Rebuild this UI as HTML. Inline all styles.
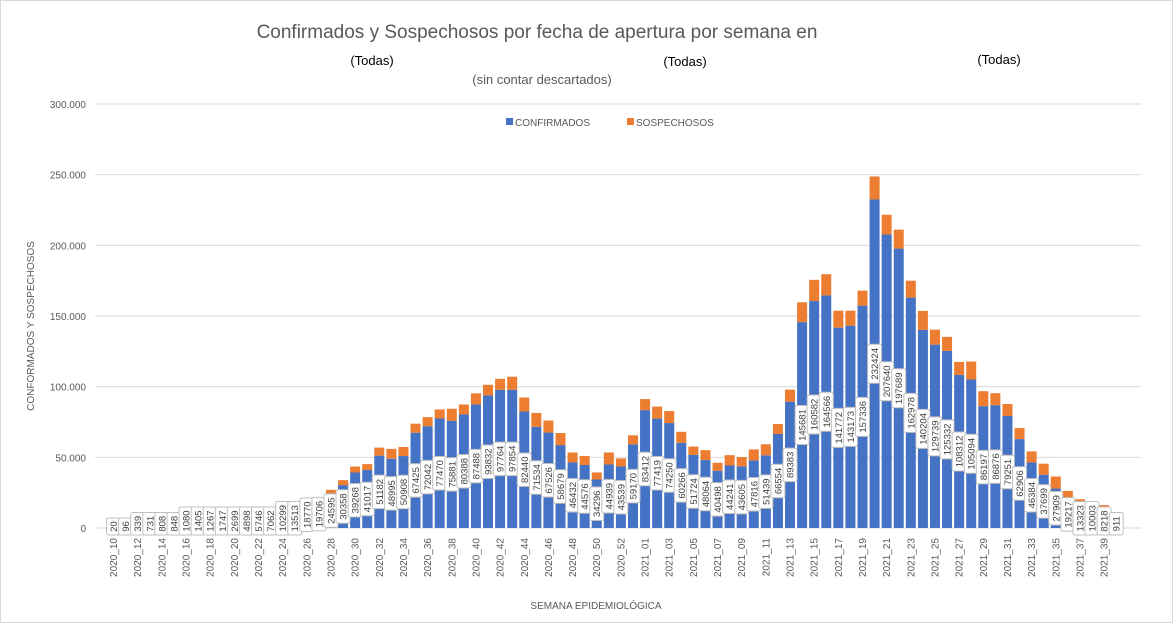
<!DOCTYPE html>
<html><head><meta charset="utf-8"><style>
html,body{margin:0;padding:0;background:#fff;}
#wrap{position:relative;width:1173px;height:623px;overflow:hidden;font-family:"Liberation Sans",sans-serif;}
svg text{font-family:"Liberation Sans",sans-serif;}
</style></head><body>
<div id="wrap">
<svg id="chart" width="1173" height="623">
<rect x="0.5" y="0.5" width="1172" height="622" fill="#fff" stroke="#d9d9d9"/>
<text x="537" y="38" font-size="19" fill="#595959" text-anchor="middle">Confirmados y Sospechosos por fecha de apertura por semana en</text>
<text x="372" y="65" font-size="13" fill="#000" text-anchor="middle">(Todas)</text>
<text x="542" y="84" font-size="13" fill="#595959" text-anchor="middle">(sin contar descartados)</text>
<text x="685" y="66" font-size="13" fill="#000" text-anchor="middle">(Todas)</text>
<text x="999" y="64" font-size="13" fill="#000" text-anchor="middle">(Todas)</text>
<rect x="506" y="118" width="7" height="7" fill="#4472c4"/>
<text x="515" y="126" font-size="10" fill="#595959">CONFIRMADOS</text>
<rect x="627" y="118" width="7" height="7" fill="#ed7d31"/>
<text x="636" y="126" font-size="10" fill="#595959">SOSPECHOSOS</text>
<text transform="translate(34,326) rotate(-90)" font-size="10" fill="#595959" text-anchor="middle">CONFORMADOS  Y SOSPECHOSOS</text>
<text x="596" y="609" font-size="10" fill="#595959" text-anchor="middle">SEMANA  EPIDEMIOLÓGICA</text>
<g id="grid"></g><g id="bars"></g><g id="labels"></g><g id="xt"></g>
</svg></div>
<script>
const weeks = [];
for (let w = 10; w <= 53; w++) weeks.push('2020_' + String(w).padStart(2,'0'));
for (let w = 1; w <= 40; w++) weeks.push('2021_' + String(w).padStart(2,'0'));
const confirmados = [20,96,339,731,808,848,1080,1405,1267,1747,2699,4898,5746,7062,10299,13513,18770,19706,24595,30358,39268,41017,51182,48995,50908,67425,72042,77470,75881,80388,87488,93832,97764,97854,82440,71534,67526,58679,46432,44576,34296,44939,43539,59170,
83412,77419,74250,60266,51724,48064,40498,44241,43605,47816,51439,66554,89383,145681,160582,164566,141772,143173,157336,232424,207640,197689,162978,140204,129739,125332,108312,105094,86197,86876,79251,62906,46384,37699,27909,19217,13323,10003,8218,911];
const sospechosos = [5,10,20,30,40,50,60,80,100,150,200,300,400,500,600,800,1000,2000,2400,3500,4200,4200,5700,7000,6400,6400,6400,6400,8500,7000,7800,7500,7800,9200,9900,9900,8500,8500,7000,6400,5000,8500,5700,6400,
7800,8500,8500,7800,5900,7000,5700,7300,6600,7800,7800,7000,8500,14000,15000,15000,12000,10600,10600,16300,14000,13400,12000,13400,10600,9900,9200,12700,10600,8500,8500,7800,7800,7800,8500,7000,7000,6000,8000,500];
const yTicks = [0,50000,100000,150000,200000,250000,300000];
const yTickLabels = ['0','50.000','100.000','150.000','200.000','250.000','300.000'];

const NS='http://www.w3.org/2000/svg';
const x0=107.5, step=12.08, y0=528, pxPer=424/300000;
const xC=i=>x0+(i+0.5)*step;
const yS=v=>y0-v*pxPer;
function mk(t,a,p){const e=document.createElementNS(NS,t);for(const k in a)e.setAttribute(k,a[k]);p.appendChild(e);return e;}
const grid=document.getElementById('grid'),bars=document.getElementById('bars'),labels=document.getElementById('labels'),xt=document.getElementById('xt');
yTicks.forEach((v,i)=>{
  const l=mk('line',{x1:95,x2:1141,y1:yS(v),y2:yS(v),stroke:'#d9d9d9','stroke-width':1},grid);
  
  
  const t=mk('text',{x:86,y:yS(v)+4,'font-size':10,fill:'#595959','text-anchor':'end'},grid);
  t.textContent=yTickLabels[i];
  
  
});
weeks.forEach((w,i)=>{
  const c=confirmados[i],s=sospechosos[i],bw=10;
  const b=mk('rect',{x:xC(i)-bw/2,y:yS(c),width:bw,height:c*pxPer,fill:'#4472c4'},bars);
  
  
  const o=mk('rect',{x:xC(i)-bw/2,y:yS(c+s),width:bw,height:s*pxPer,fill:'#ed7d31'},bars);
  
  
  const txt=String(c), h=txt.length*5.5+6, wdt=14;
  let cy=Math.min(yS(c/2),535-h/2);
  const g=mk('g',{},labels);
  
  
  mk('rect',{x:xC(i)-wdt/2,y:cy-h/2,width:wdt,height:h,rx:2,fill:'#fff',stroke:'#bfbfbf','stroke-width':1},g);
  const t=mk('text',{transform:`translate(${xC(i)+3.5},${cy}) rotate(-90)`,'font-size':9.5,fill:'#404040','text-anchor':'middle'},g);
  t.textContent=txt;
  if(i%2===0){
    const lt=mk('text',{transform:`translate(${xC(i)+3.5},538) rotate(-90)`,'font-size':10,fill:'#595959','text-anchor':'end'},xt);
    lt.textContent=w;
    
    
  }
});
</script>
</body></html>
